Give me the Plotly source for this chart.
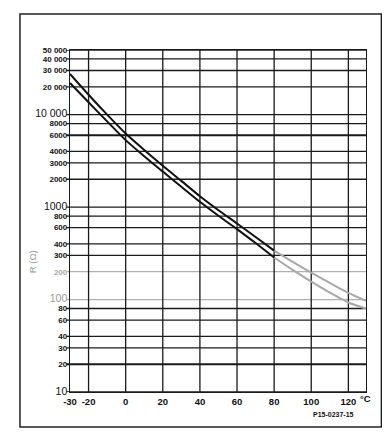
import plotly.graph_objects as go

# ---- data ----
temps_black = [-30, -20, -10, 0, 10, 20, 30, 40, 50, 60, 70, 80]
upper_black = [27500, 16400, 10000, 6250, 4150, 2800, 1920, 1310, 925, 665, 475, 338]
lower_black = [22000, 13600, 8450, 5300, 3550, 2420, 1660, 1140, 805, 578, 408, 285]

temps_grey = [80, 90, 100, 110, 120, 129.5]
upper_grey = [338, 255, 195, 151, 118, 97]
lower_grey = [285, 209, 156, 119, 93, 80]

x_ticks = [-30, -20, 0, 20, 40, 60, 80, 100, 120]
x_grid = [-20, 0, 20, 40, 60, 80, 100, 120]
y_ticks = [10, 20, 30, 40, 60, 80, 100, 200, 300, 400, 600, 800, 1000,
           2000, 3000, 4000, 6000, 8000, 10000, 20000, 30000, 40000, 50000]
y_labels = ["10", "20", "30", "40", "60", "80", "100", "200", "300", "400", "600", "800", "1000",
            "2000", "3000", "4000", "6000", "8000", "10 000", "20 000", "30 000", "40 000", "50 000"]
grey_rows = [100, 200]
thick_rows = [20, 6000]

FONT = "Liberation Sans"

def fmt_label(v, t):
    if v in (10, 100, 1000, 10000):
        col = "#999" if v == 100 else "#111"
        return f'<span style="font-size:10.5px;font-weight:normal;fill:{col}">{t}</span>'
    if v in grey_rows:
        return f'<span style="fill:#aaa">{t}</span>'
    return t

fig = go.Figure()

for y in [upper_grey, lower_grey]:
    fig.add_trace(go.Scatter(x=temps_grey, y=y, mode="lines",
                             line=dict(color="#a8a8a8", width=2, shape="spline", smoothing=0.8),
                             showlegend=False, hoverinfo="skip"))
for y in [upper_black, lower_black]:
    fig.add_trace(go.Scatter(x=temps_black, y=y, mode="lines",
                             line=dict(color="#111", width=2, shape="spline", smoothing=0.8),
                             showlegend=False, hoverinfo="skip"))

shapes = []
for v in y_ticks:
    col = "#b0b0b0" if v in grey_rows else "#1a1a1a"
    w = 2 if v in thick_rows else 1.3
    shapes.append(dict(type="line", xref="paper", yref="y", x0=-0.012, x1=1, y0=v, y1=v,
                       line=dict(color=col, width=w), layer="below"))
for v in x_grid:
    shapes.append(dict(type="line", xref="x", yref="paper", x0=v, x1=v, y0=0, y1=1,
                       line=dict(color="#1a1a1a", width=1.3), layer="below"))
# outer frame
shapes.append(dict(type="rect", xref="paper", yref="paper", x0=-0.169, x1=1.052, y0=-0.102, y1=1.105,
                   line=dict(color="#222", width=1.5)))

# page body has an 8px default margin, so the figure is 8px smaller and shifted
fig.update_layout(
    width=382, height=431,
    margin=dict(l=62, r=24, t=42, b=47),
    paper_bgcolor="white", plot_bgcolor="white",
    font=dict(family=FONT, color="#111"),
    shapes=shapes,
    xaxis=dict(range=[-30, 129.5], tickvals=x_ticks, ticktext=[str(v) for v in x_ticks],
               showgrid=False, zeroline=False, showline=True, mirror=True,
               linecolor="#1a1a1a", linewidth=1.3, ticks="", ticklen=0,
               tickfont=dict(family=FONT, size=9.5, weight="bold", color="#111")),
    yaxis=dict(type="log", range=[1, 4.69897], tickvals=y_ticks,
               ticktext=[fmt_label(v, t) for v, t in zip(y_ticks, y_labels)],
               showgrid=False, zeroline=False, showline=True, mirror=True,
               linecolor="#1a1a1a", linewidth=1.3, ticks="", ticklen=0,
               tickfont=dict(family=FONT, size=8, weight="bold", color="#111")),
    annotations=[
        dict(text="°C", xref="paper", yref="paper", x=1, y=0, xanchor="left", yanchor="middle",
             xshift=-8, yshift=-6, showarrow=False,
             font=dict(family=FONT, size=9.5, weight="bold", color="#111")),
        dict(text="P15-0237-15", xref="paper", yref="paper", x=0.89, y=0, xanchor="center",
             yanchor="middle", yshift=-22, showarrow=False,
             font=dict(family=FONT, size=7, weight="bold", color="#111")),
        dict(text="R (Ω)", xref="paper", yref="paper", x=-0.128, y=0.38, textangle=-90,
             xanchor="center", yanchor="middle", showarrow=False,
             font=dict(family=FONT, size=9.5, color="#999")),
    ],
)

fig.write_html("out.html")
